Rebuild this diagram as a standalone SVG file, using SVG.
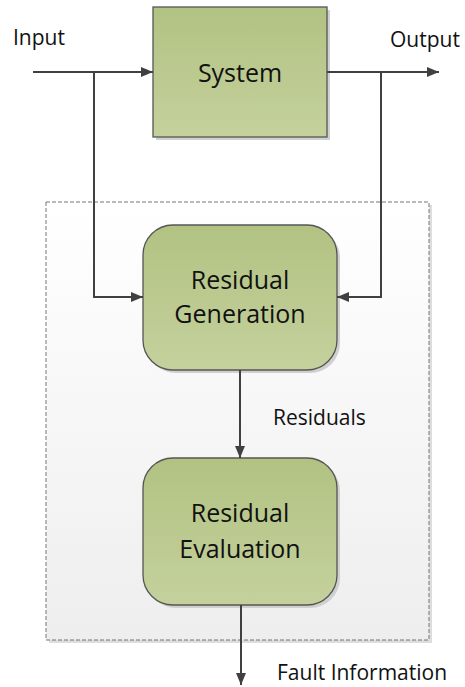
<svg xmlns="http://www.w3.org/2000/svg" width="465" height="687" viewBox="0 0 465 687">
<defs>
<linearGradient id="g" x1="0" y1="0" x2="0" y2="1"><stop offset="0" stop-color="#b2c282"/><stop offset="1" stop-color="#c4d19d"/></linearGradient>
<linearGradient id="bg" x1="0" y1="0" x2="0" y2="1"><stop offset="0" stop-color="#ffffff"/><stop offset="1" stop-color="#eeeeee"/></linearGradient>
<marker id="a" markerWidth="12" markerHeight="10" refX="12" refY="5" orient="auto" markerUnits="userSpaceOnUse"><path d="M0,0 L12,5 L0,10 z" fill="#404040"/></marker>
</defs>
<style>
.t{font-family:"Open Sans","Liberation Sans",sans-serif;fill:#111}
.n{font-size:25px;text-anchor:middle}
.l{font-size:21px}
.c{fill:none;stroke:#404040;stroke-width:2}
.box{fill:url(#g);stroke:#555;stroke-width:1.3}
.sh{fill:#d0d0d0}
</style>
<rect width="465" height="687" fill="#fff"/>
<g id="container">
<rect x="49" y="205" width="383" height="438" fill="#ddd"/>
<rect x="46" y="202" width="383" height="438" fill="url(#bg)" stroke="#777" stroke-width="1" stroke-dasharray="4,2"/>
</g>
<g id="system">
<rect class="sh" x="156" y="10" width="174" height="130"/>
<rect class="box" x="153" y="7" width="174" height="130"/>
<text class="t n" x="240" y="82">System</text>
</g>
<g id="gen">
<rect class="sh" x="146" y="228" width="194" height="145" rx="30"/>
<rect class="box" x="143" y="225" width="194" height="145" rx="30"/>
<text class="t n" x="240" y="289">Residual</text>
<text class="t n" x="240" y="323">Generation</text>
</g>
<g id="eval">
<rect class="sh" x="146" y="461" width="194" height="147" rx="30"/>
<rect class="box" x="143" y="458" width="194" height="147" rx="30"/>
<text class="t n" x="240" y="522">Residual</text>
<text class="t n" x="240" y="558">Evaluation</text>
</g>
<g id="connectors">
<path class="c" d="M33,72 H153" marker-end="url(#a)"/>
<path class="c" d="M94,72 V297 H143" marker-end="url(#a)"/>
<path class="c" d="M327,72 H439" marker-end="url(#a)"/>
<path class="c" d="M381,72 V297 H337" marker-end="url(#a)"/>
<path class="c" d="M240,370 V458" marker-end="url(#a)"/>
<path class="c" d="M241,605 V685" marker-end="url(#a)"/>
</g>
<g id="labels">
<text class="t l" x="13" y="45">Input</text>
<text class="t l" x="390" y="47">Output</text>
<text class="t l" x="273" y="425">Residuals</text>
<text class="t l" x="277" y="680">Fault Information</text>
</g>
</svg>
